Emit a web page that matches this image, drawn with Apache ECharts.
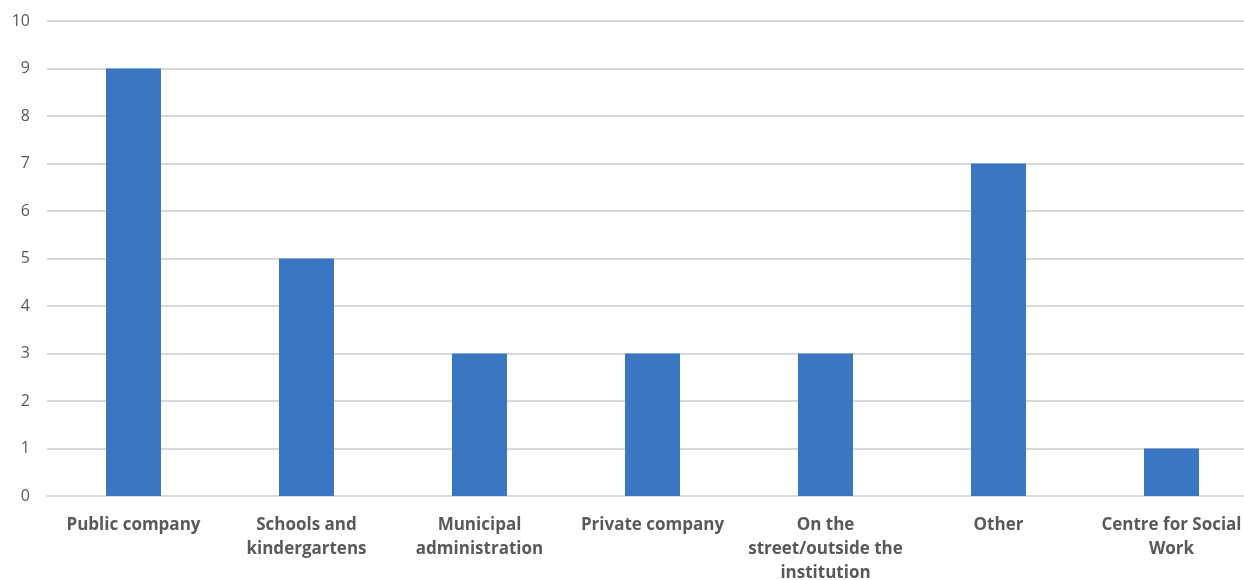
<!DOCTYPE html>
<html>
<head>
<meta charset="utf-8">
<style>
  html, body { margin: 0; padding: 0; background: #ffffff; }
  #chart { width: 1244px; height: 580px; }
</style>
<script src="https://cdn.jsdelivr.net/npm/echarts@6/dist/echarts.min.js"></script>
</head>
<body>
<div id="chart"></div>
<script>
// Place categories (line breaks mark where labels wrap)
const categories = [
  'Public company',
  'Schools and\nkindergartens',
  'Municipal\nadministration',
  'Private company',
  'On the\nstreet/outside the\ninstitution',
  'Other',
  'Centre for Social\nWork'
];
const counts = [9, 5, 3, 3, 3, 7, 1];
const yTicks = { min: 0, max: 10, interval: 1 };

const chart = echarts.init(document.getElementById('chart'), null, { renderer: 'canvas' });
chart.setOption({
  animation: false,
  grid: {
    left: 47, top: 21, width: 1211, bottom: 84,
    containLabel: false,
    outerBoundsMode: 'none'
  },
  xAxis: {
    type: 'category',
    data: categories,
    axisLine: { show: true, lineStyle: { color: '#d9d9d9', width: 2 } },
    axisTick: { show: false },
    axisLabel: {
      interval: 0,
      margin: 17,
      color: '#595959',
      fontFamily: 'Open Sans, Liberation Sans, sans-serif',
      fontWeight: 'bold',
      fontSize: 17,
      lineHeight: 24
    }
  },
  yAxis: {
    type: 'value',
    min: yTicks.min,
    max: yTicks.max,
    interval: yTicks.interval,
    axisLine: { show: false },
    axisTick: { show: false },
    splitLine: { lineStyle: { color: '#d9d9d9', width: 2 } },
    axisLabel: {
      margin: 17,
      color: '#595959',
      fontFamily: 'Open Sans, Liberation Sans, sans-serif',
      fontSize: 16
    }
  },
  series: [{
    type: 'bar',
    data: counts,
    barWidth: 55,
    itemStyle: { color: '#3b76c3' }
  }]
});
</script>
</body>
</html>
